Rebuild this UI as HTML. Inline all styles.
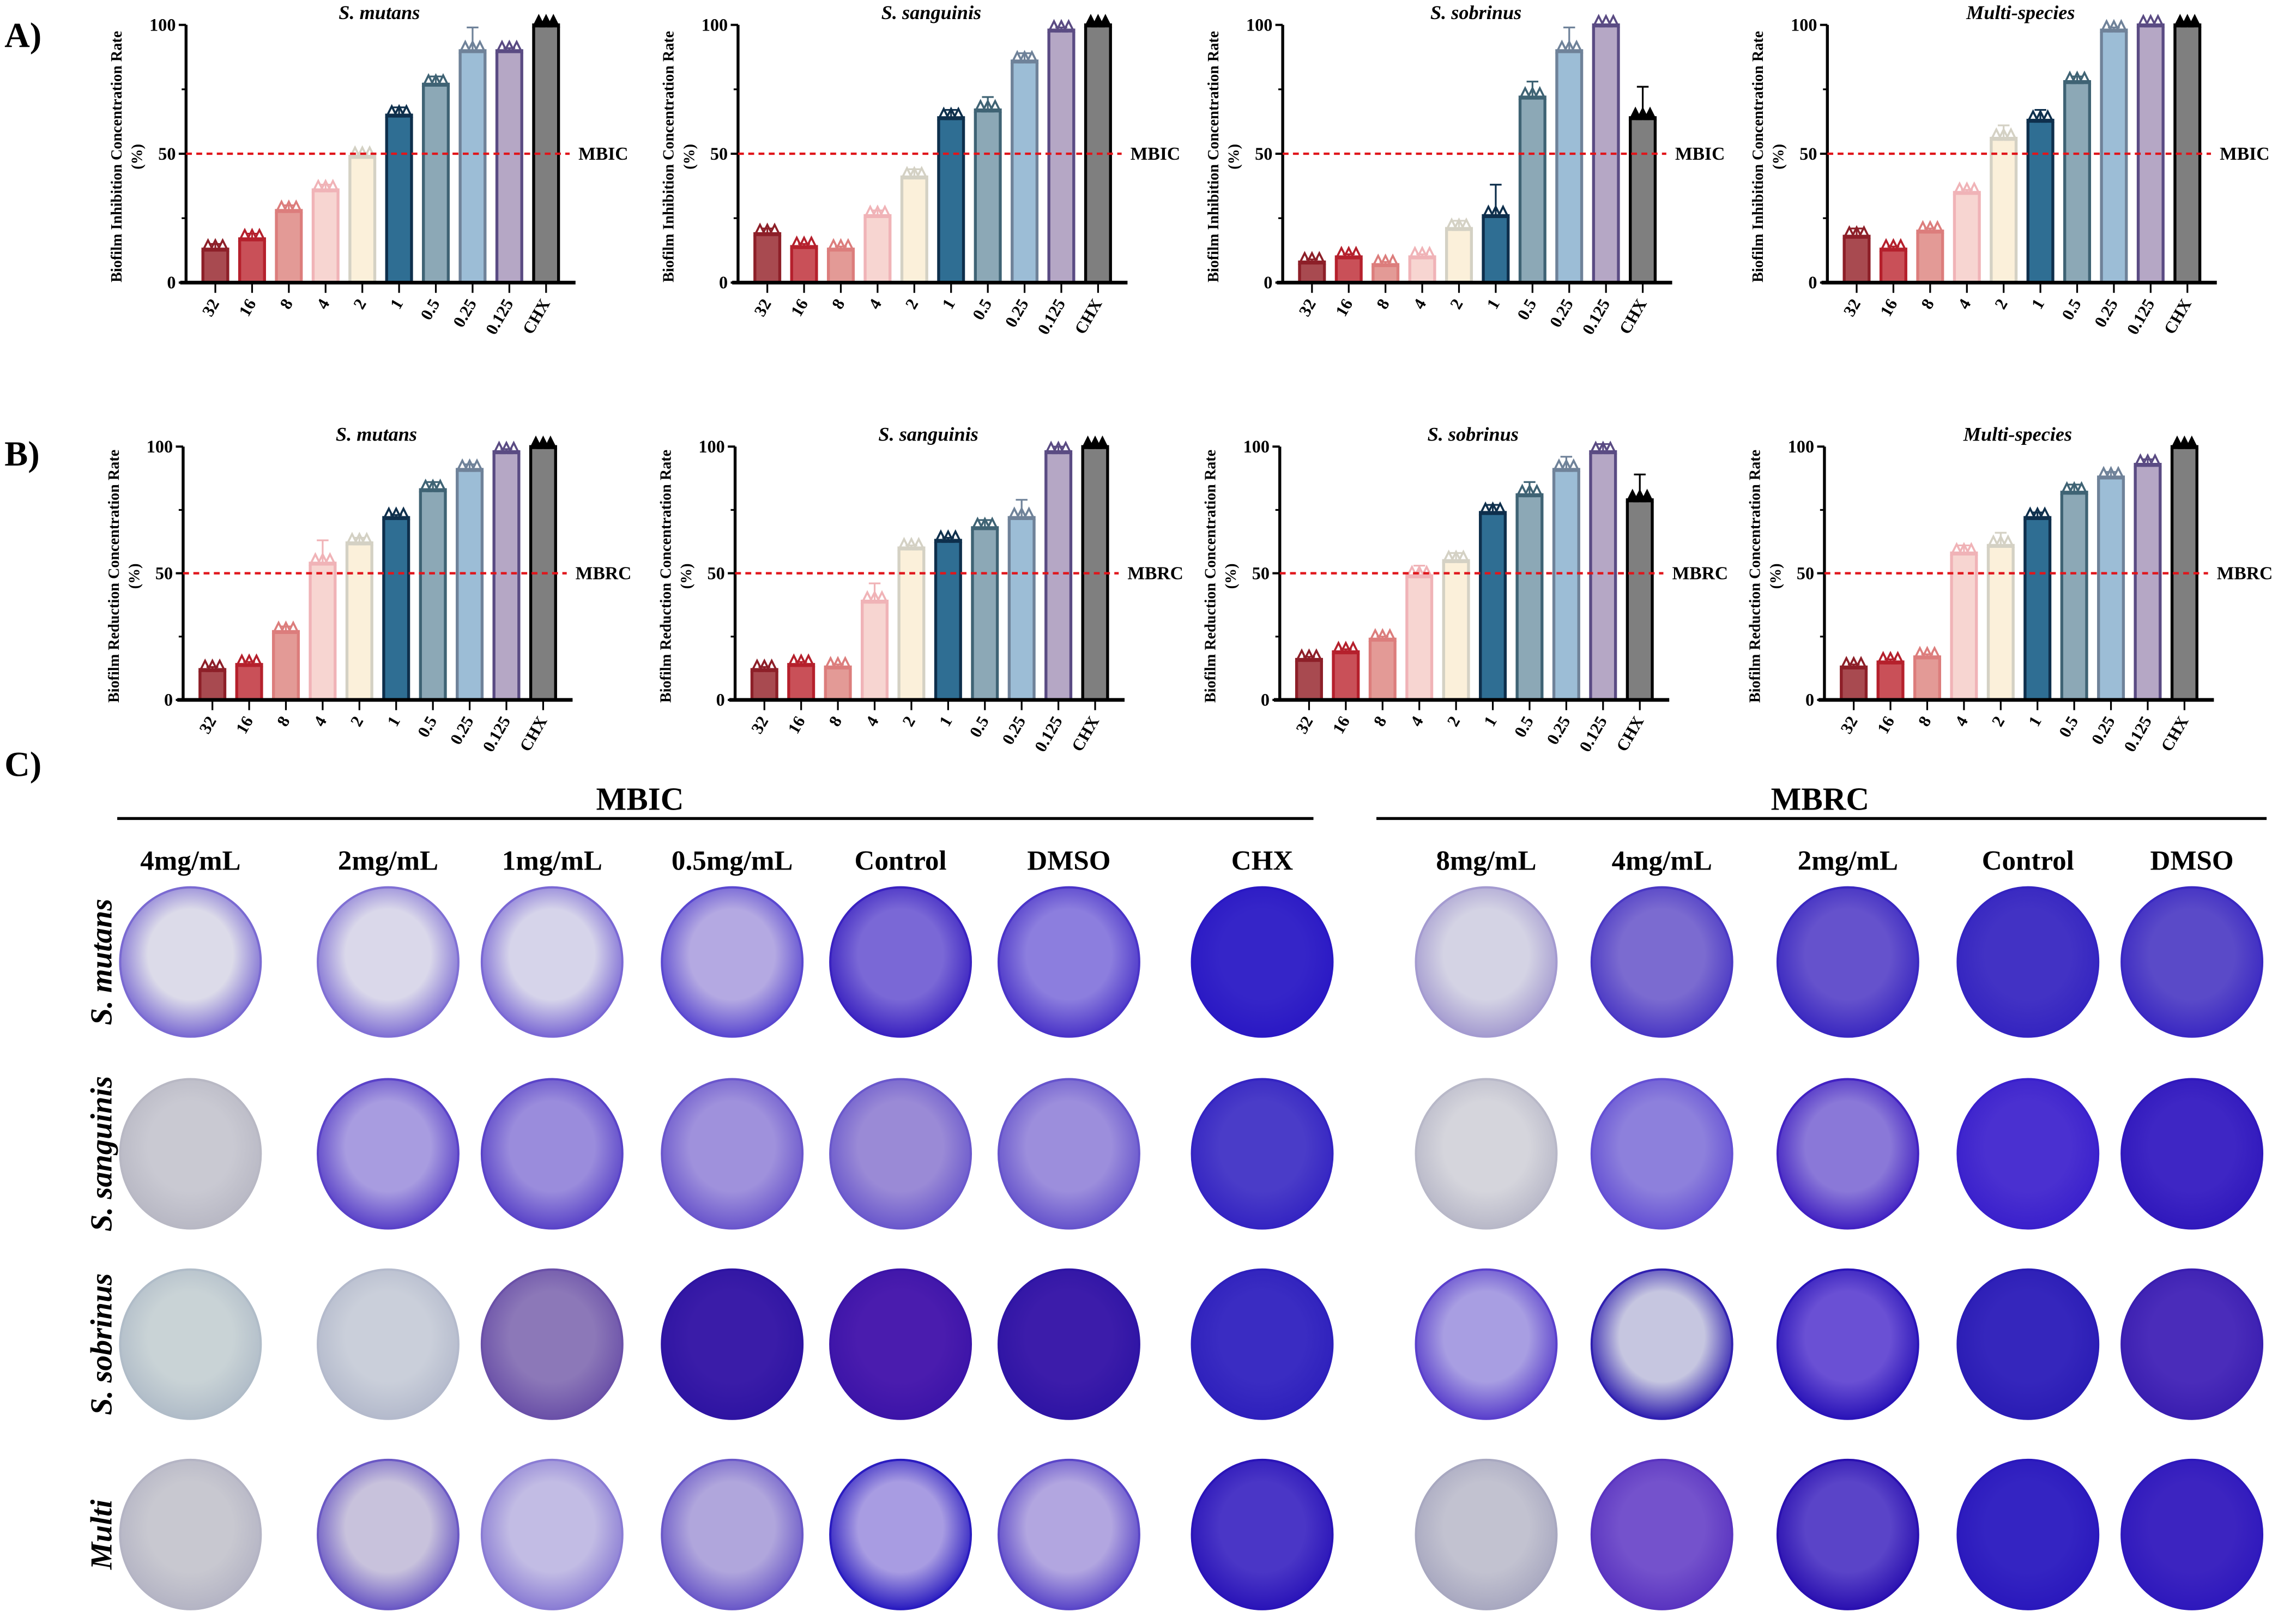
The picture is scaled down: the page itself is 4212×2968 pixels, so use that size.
<!DOCTYPE html>
<html><head><meta charset="utf-8"><style>
html,body{margin:0;padding:0;background:#fff}
svg{display:block}
text{font-family:"Liberation Serif",serif;font-weight:bold}
</style></head><body>
<svg id="fig" xmlns="http://www.w3.org/2000/svg" width="4212" height="2968" viewBox="0 0 1568 1105">
<rect width="1568" height="1105" fill="#fff"/>
<g id="charts"></g>
<g id="plates"></g>
</svg>
<script>
const categories=["32","16","8","4","2","1","0.5","0.25","0.125","CHX"];
const titles=["S. mutans","S. sanguinis","S. sobrinus","Multi-species"];
const mbicValues=[
[13,17,28,36,49,65,77,90,90,100],
[19,14,13,26,41,64,67,86,98,100],
[8,10,7,10,21,26,72,90,100,64],
[18,13,20,35,56,63,78,98,100,100]];
const mbicErr=[
[2,2,2,2,1,3,3,9,1,0],
[2,1,1,2,3,3,5,3,1,0],
[1,1,1,1,3,12,6,9,0,12],
[3,1,1,1,5,4,2,1,0,0]];
const mbrcValues=[
[12,14,27,54,62,72,83,91,98,100],
[12,14,13,39,60,63,68,72,98,100],
[16,19,24,49,55,74,81,91,98,79],
[13,15,17,58,61,72,82,88,93,100]];
const mbrcErr=[
[1,1,2,9,2,1,3,2,1,0],
[1,1,1,7,1,1,3,7,2,0],
[1,1,1,4,3,3,5,5,3,10],
[1,1,1,3,5,2,3,2,2,1]];
const yTicks=[0,50,100];
const fills=["#a84a50","#c95058","#e39a96","#f7d5d1","#fbf0da","#2f6e93","#8ca8b6","#9cbdd6","#b5a7c5","#7f7f7f"];
const strokes=["#8d1f28","#b5202c","#dc7d7c","#f0b3b7","#d4d1c4","#0e2f4c","#3f6374","#6f8299","#5a4b83","#000"];

const NS="http://www.w3.org/2000/svg";
function mk(tag,attrs,parent,txt){const e=document.createElementNS(NS,tag);for(const k in attrs)e.setAttribute(k,attrs[k]);if(txt!==undefined)e.textContent=txt;parent.appendChild(e);return e;}
const charts=document.getElementById('charts');
const axesX=[127,504,876,1248];

function drawChart(ax,yTop,yBase,vals,errs,title,ylab,thrLab,idx,row){
  const g=mk('g',{},charts);
  
  
  const yS=v=>yBase-(yBase-yTop)*v/100;
  const xS=i=>ax+20+i*25.1;
  vals.forEach((v,i)=>{
    const b=mk('rect',{x:xS(i)-8.5,y:yS(v),width:17,height:yBase-yS(v),fill:fills[i],stroke:strokes[i],'stroke-width':2},g);
    
    
    const e=errs[i];
    if(e>0){mk('line',{x1:xS(i),x2:xS(i),y1:yS(v+e),y2:yS(v),stroke:strokes[i],'stroke-width':1.2},g);
      mk('line',{x1:xS(i)-4,x2:xS(i)+4,y1:yS(v+e),y2:yS(v+e),stroke:strokes[i],'stroke-width':1.2},g);}
    [-5,0,5].forEach(dx=>{const cx=xS(i)+dx,cy=yS(v)-2;
      mk('path',{d:`M${cx-3.5} ${cy+3} L${cx} ${cy-4} L${cx+3.5} ${cy+3} Z`,fill:i==9?'#000':'none',stroke:strokes[i],'stroke-width':1.4},g);});
  });
  mk('line',{x1:ax,x2:ax,y1:yTop,y2:yBase,stroke:'#000','stroke-width':2},g);
  mk('line',{x1:ax-4,x2:ax+266,y1:yBase,y2:yBase,stroke:'#000','stroke-width':2.5},g);
  yTicks.forEach(t=>{mk('line',{x1:ax-5,x2:ax,y1:yS(t),y2:yS(t),stroke:'#000','stroke-width':1.5},g);
    mk('text',{x:ax-7,y:yS(t)+4,'font-size':12,'text-anchor':'end'},g,t);});
  [25,75].forEach(t=>mk('line',{x1:ax-3,x2:ax,y1:yS(t),y2:yS(t),stroke:'#000','stroke-width':1.2},g));
  categories.forEach((c,i)=>{mk('line',{x1:xS(i),x2:xS(i),y1:yBase,y2:yBase+7,stroke:'#000','stroke-width':1.2},g);
    const t=mk('text',{x:xS(i)+3,y:yBase+14,'font-size':11.5,'text-anchor':'end',transform:`rotate(-60 ${xS(i)+3} ${yBase+14})`},g,c);
    });
  const th=mk('line',{x1:ax,x2:ax+262,y1:yS(50),y2:yS(50),stroke:'#e0151b','stroke-width':1.6,'stroke-dasharray':'4 3'},g);
  
  mk('text',{x:ax+268,y:yS(50)+4,'font-size':12.5},g,thrLab);
  const tt=mk('text',{x:ax+132,y:yTop-4,'font-size':13.5,'font-style':'italic','text-anchor':'middle'},g,title);
  
  const ym=(yTop+yBase)/2+2;
  const yl=mk('text',{x:ax-44,y:ym,'font-size':10.5,'text-anchor':'middle',transform:`rotate(-90 ${ax-44} ${ym})`},g,ylab);
  
  mk('text',{x:ax-30,y:ym,'font-size':10.5,'text-anchor':'middle',transform:`rotate(-90 ${ax-30} ${ym})`},g,'(%)');
}
for(let i=0;i<4;i++){
  drawChart(axesX[i],17,193,mbicValues[i],mbicErr[i],titles[i],'Biofilm Inhibition Concentration Rate','MBIC',i,'a');
  drawChart(axesX[i]-2,305,478,mbrcValues[i],mbrcErr[i],titles[i],'Biofilm Reduction  Concentration Rate','MBRC',i,'b');
}
const lA=mk('text',{x:3,y:32,'font-size':24},charts,'A)');
const lB=mk('text',{x:3,y:318,'font-size':24},charts,'B)');
const lC=mk('text',{x:3,y:530,'font-size':24},charts,'C)');

const pg=document.getElementById('plates');
const defs=mk('defs',{},pg);
const colX=[130,265,377,500,615,730,862,1015,1135,1262,1385,1497];
const colLabels=["4mg/mL","2mg/mL","1mg/mL","0.5mg/mL","Control","DMSO","CHX","8mg/mL","4mg/mL","2mg/mL","Control","DMSO"];
const rowY=[657,788,918,1048];
const rowLabels=["S. mutans","S. sanguinis","S. sobrinus","Multi"];
const plateCenter=[
["#dcdbe9","#dad8ea","#d6d4ea","#b4a9e2","#7a68d6","#8c7ede","#3525c8","#d4d3e4","#7b6bd0","#6552cc","#4232c4","#5a4ac8"],
["#c9c9d2","#a89ce0","#9a8cdc","#9f91dc","#9a8ad6","#9c8edc","#4a3cc8","#d5d5dc","#8d80dc","#8a78d8","#4a30d0","#3e26c4"],
["#c9d3d6","#cacfda","#8c78b8","#3a1ca8","#4a1cae","#3c1caa","#3a2cc2","#a89ee2","#c6c6e0","#6a50d4","#3526bc","#4a2cba"],
["#c8c8d0","#c8c2dc","#c2bce4","#b0a6dc","#a89ce2","#b2a6e0","#4a36c6","#c2c2d0","#7452cc","#5a44c8","#3424c2","#3c24c0"]];
const plateEdge=[
["#7a6ad2","#8070d4","#7a68d4","#5a48d0","#3a22c0","#4a34c8","#2a18c4","#a49bd0","#4a38c4","#3a28c0","#3424c0","#3a28c2"],
["#b8b8c4","#5a42c8","#5a44c8","#6a56cc","#6a58cc","#6654cc","#3424c2","#b8b8c8","#6450d4","#4222c2","#3a20cc","#3018bc"],
["#b0bcc8","#b4bacc","#6a50a8","#2e14a2","#3c14a8","#2e14a4","#2e20bc","#5a40cc","#3020b0","#2a14b8","#2a1cb4","#3a1eb0"],
["#b4b4c4","#6a58c4","#8a7cd4","#6a58c8","#2a1cc0","#5a46c8","#2a14b8","#a8a8c0","#5a34c0","#2a10b0","#2a18bc","#2e18bc"]];
for(let r=0;r<4;r++)for(let c=0;c<12;c++){
  const id='g'+r+'_'+c;
  const gr=mk('radialGradient',{id:id,cx:'50%',cy:'45%',r:'55%'},defs);
  mk('stop',{offset:'0%','stop-color':plateCenter[r][c]},gr);
  mk('stop',{offset:'55%','stop-color':plateCenter[r][c]},gr);
  mk('stop',{offset:'100%','stop-color':plateEdge[r][c]},gr);
  const p=mk('ellipse',{cx:colX[c],cy:rowY[r],rx:48,ry:51,fill:`url(#${id})`,stroke:plateEdge[r][c],'stroke-width':1.5},pg);
  
  
}
colLabels.forEach((t,i)=>{const e=mk('text',{x:colX[i],y:594,'font-size':19,'text-anchor':'middle'},pg,t);
  });
rowLabels.forEach((t,i)=>{const e=mk('text',{x:76,y:rowY[i],'font-size':21,'font-style':'italic','text-anchor':'middle',transform:`rotate(-90 76 ${rowY[i]})`},pg,t);
  });
const m1=mk('text',{x:437,y:553,'font-size':22,'text-anchor':'middle'},pg,'MBIC');
mk('line',{x1:80,x2:897,y1:559,y2:559,stroke:'#000','stroke-width':2},pg);
const m2=mk('text',{x:1243,y:553,'font-size':22,'text-anchor':'middle'},pg,'MBRC');
mk('line',{x1:940,x2:1548,y1:559,y2:559,stroke:'#000','stroke-width':2},pg);
</script>
</body></html>
